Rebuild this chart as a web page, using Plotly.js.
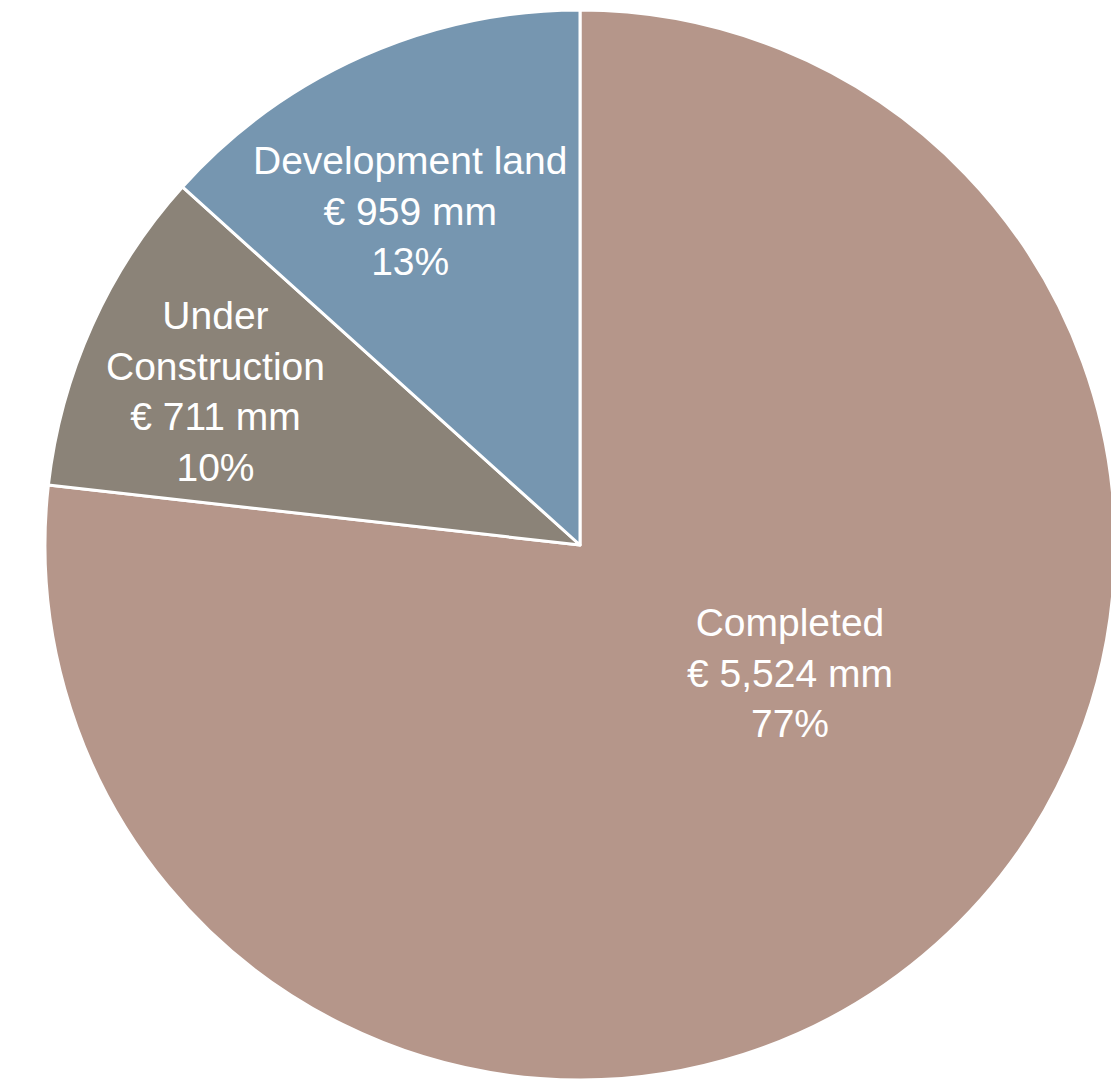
<!DOCTYPE html>
<html>
<head>
<meta charset="utf-8">
<script src="https://cdn.plot.ly/plotly-3.0.1.min.js"></script>
<style>
html,body{margin:0;padding:0;overflow:hidden;background:#fff;}
#chart{width:1115px;height:1081px;}
</style>
</head>
<body>
<div id="chart"></div>
<script>
const categories = ["Completed", "Under<br>Construction", "Development land"];
const values = [5524, 711, 959];
const percentLabels = ["77%", "10%", "13%"];
const colors = ["#B5968A", "#8B8378", "#7696B0"];

const trace = {
  type: "pie",
  labels: categories,
  values: values,
  sort: false,
  direction: "clockwise",
  rotation: 0,
  marker: {colors: colors, line: {color: "#ffffff", width: 3}},
  textinfo: "none",
  hoverinfo: "label+value+percent",
  showlegend: false
};

// label placement: derived from each slice's mid-angle
const labelRadius = [0.46, 0.74, 0.70];
const labelAngleShift = [-17, -1.4, -3];
const total = values.reduce((a, b) => a + b, 0);
let cum = 0;
const annotations = values.map((v, i) => {
  const mid = (cum + v / 2) / total * 360 + labelAngleShift[i];
  cum += v;
  const a = mid * Math.PI / 180;
  const r = 0.5 * labelRadius[i];
  return {
    xref: "paper", yref: "paper",
    x: 0.5 + r * Math.sin(a),
    y: 0.5 + r * Math.cos(a),
    xanchor: "center", yanchor: "middle",
    showarrow: false,
    align: "center",
    text: categories[i] + "<br>€ " + v.toLocaleString("en-US") + " mm<br>" + percentLabels[i],
    font: {family: "Liberation Sans, Arial, sans-serif", size: 39, color: "#ffffff"}
  };
});

const layout = {
  width: 1115,
  height: 1081,
  margin: {l: 45, r: 0, t: 10, b: 1, pad: 0},
  paper_bgcolor: "#ffffff",
  showlegend: false,
  annotations: annotations
};

Plotly.newPlot("chart", [trace], layout, {displayModeBar: false, staticPlot: true});
</script>
</body>
</html>
